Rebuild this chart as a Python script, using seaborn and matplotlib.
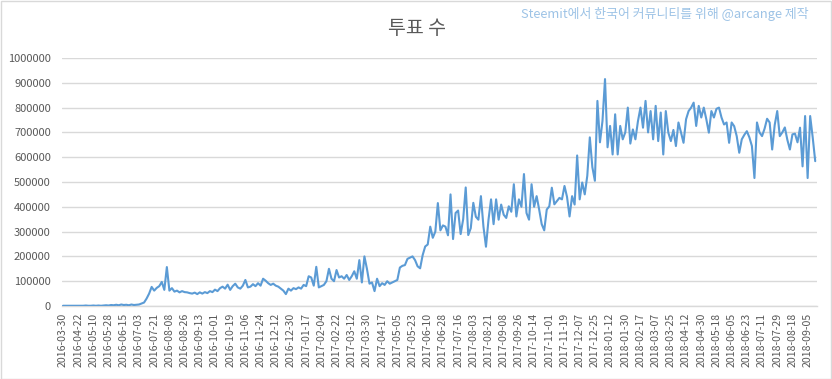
import matplotlib
matplotlib.use('Agg')
import matplotlib.pyplot as plt
from matplotlib.patches import Rectangle
import seaborn as sns
import pandas as pd
import numpy as np

# ---- data (votes in thousands, one value every 3 days) ----
votes_k = [
    1, 1, 1, 1, 1, 1, 1, 1, 1, 2, 1, 1, 2, 1, 2, 1, 2, 3, 2,
    4, 3, 5, 3, 6, 4, 5, 3, 6, 4, 5, 6,
    10, 14, 30, 50, 77, 62, 73, 80, 97, 65,
    157, 62, 72, 58, 62, 55, 60, 56, 55, 52,
    50, 54, 48, 55, 50, 56, 52, 60, 56, 66,
    60, 72, 78, 70, 86, 65, 80, 90, 75, 70,
    82, 105, 75, 78, 88, 80, 92, 82, 110, 102,
    92, 85, 90, 82, 78, 70, 62, 48, 70, 62,
    72, 68, 75, 70, 85, 80, 120, 115, 82, 158,
    75, 80, 85, 100, 150, 110, 100, 145, 115, 120,
    110, 125, 105, 120, 140, 110, 185, 95, 200, 150,
    90, 95, 60, 110, 80, 92, 85, 100, 90, 95,
    100, 105, 155, 162, 165, 190, 195, 200, 185, 160,
    152, 205, 240, 248, 320, 275, 300, 415, 305, 325,
    320, 285, 450, 270, 375, 385, 290, 350, 478, 286,
    314, 416, 360, 348, 443, 320, 239, 348, 430, 330,
    430, 348, 409, 368, 355, 402, 380, 491, 361, 430,
    400, 532, 375, 348, 491, 400, 443, 389, 330, 305,
    389, 402, 477, 410, 423, 436, 430, 484, 440, 361,
    443, 409, 607, 430, 498, 450, 525, 680, 560, 505,
    827, 660, 746, 915, 640, 726, 611, 773, 611, 726,
    672, 700, 800, 655, 712, 672, 745, 800, 719, 827,
    700, 786, 672, 807, 665, 780, 611, 786, 699, 665,
    710, 645, 740, 700, 658, 753, 786, 800, 820, 726,
    807, 760, 800, 753, 699, 786, 760, 795, 800, 760,
    732, 740, 658, 740, 725, 685, 618, 672, 690, 705,
    680, 645, 516, 740, 700, 685, 715, 755, 740, 631,
    730, 786, 685, 700, 720, 670, 631, 692, 695, 660,
    719, 563, 766, 516, 766, 680, 584,
]

tick_labels = [
    '2016-03-30', '2016-04-22', '2016-05-10', '2016-05-28', '2016-06-15',
    '2016-07-03', '2016-07-21', '2016-08-08', '2016-08-26', '2016-09-13',
    '2016-10-01', '2016-10-19', '2016-11-06', '2016-11-24', '2016-12-12',
    '2016-12-30', '2017-01-17', '2017-02-04', '2017-02-22', '2017-03-12',
    '2017-03-30', '2017-04-17', '2017-05-05', '2017-05-23', '2017-06-10',
    '2017-06-28', '2017-07-16', '2017-08-03', '2017-08-21', '2017-09-08',
    '2017-09-26', '2017-10-14', '2017-11-01', '2017-11-19', '2017-12-07',
    '2017-12-25', '2018-01-12', '2018-01-30', '2018-02-17', '2018-03-07',
    '2018-03-25', '2018-04-12', '2018-04-30', '2018-05-18', '2018-06-05',
    '2018-06-23', '2018-07-11', '2018-07-29', '2018-08-18', '2018-09-05',
]

y_ticks = [0, 100000, 200000, 300000, 400000, 500000,
           600000, 700000, 800000, 900000, 1000000]

title = '투표 수'
watermark = 'Steemit에서 한국어 커뮤니티를 위해 @arcange 제작'

df = pd.DataFrame({'idx': np.arange(len(votes_k)),
                   'votes': np.array(votes_k) * 1000})

sns.set_theme(style='white')
plt.rcParams['font.family'] = ['Noto Sans CJK KR', 'DejaVu Sans']

W, H = 832, 379
fig = plt.figure(figsize=(W / 100, H / 100), dpi=100)
fig.patch.set_facecolor('white')
ax = fig.add_axes([62 / W, 1 - 306 / H, (817 - 62) / W, (306 - 58) / H])

sns.lineplot(data=df, x='idx', y='votes', ax=ax, color='#5b9bd5',
             linewidth=1.5, zorder=3)

ax.set_xlim(-0.4, 297.7)
ax.set_ylim(0, 1000000)
ax.set_yticks(y_ticks)
ax.set_yticklabels([str(v) for v in y_ticks])
ax.set_xticks(np.arange(len(tick_labels)) * 6)
ax.set_xticklabels(tick_labels, rotation=90)
ax.yaxis.grid(True, color='#d9d9d9', linewidth=1)
ax.xaxis.grid(False)
ax.set_axisbelow(True)
for s in ['top', 'right', 'left']:
    ax.spines[s].set_visible(False)
ax.spines['bottom'].set_color('#d9d9d9')
ax.spines['bottom'].set_linewidth(1)
ax.tick_params(axis='y', length=0, colors='#595959', labelsize=8, pad=8)
ax.tick_params(axis='x', length=0, colors='#595959', labelsize=7.6, pad=5)
ax.set_xlabel('')
ax.set_ylabel('')

fig.text(417 / W, 1 - 28 / H, title, ha='center', va='center',
         fontsize=14, color='#595959')
fig.text(521 / W, 1 - 14 / H, watermark, ha='left', va='center',
         fontsize=9.3, color='#9dc3e6')

fig.patches.append(Rectangle((0.5 / W, 0.5 / H), 1 - 1.5 / W, 1 - 1.5 / H,
                             transform=fig.transFigure, fill=False,
                             edgecolor='#d9d9d9', linewidth=1))

fig.savefig('out.png', dpi=100)
